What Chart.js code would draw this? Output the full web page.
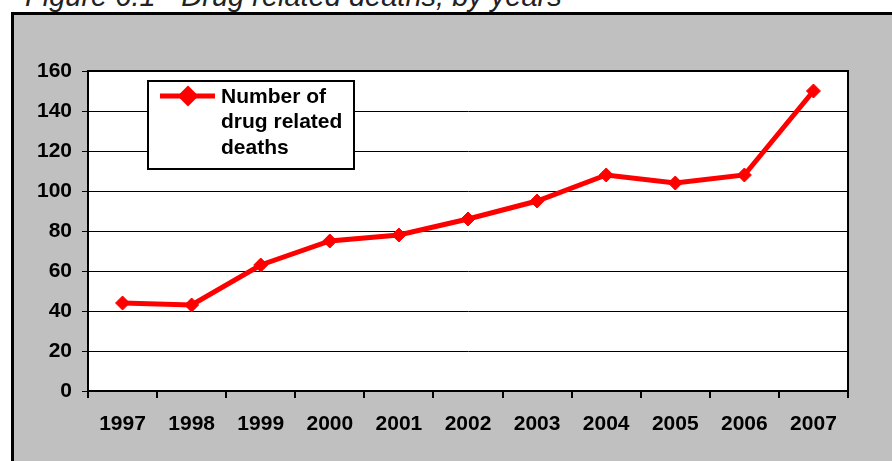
<!DOCTYPE html>
<html>
<head>
<meta charset="utf-8">
<script src="https://cdn.jsdelivr.net/npm/chart.js@4"></script>
<style>
  html, body { margin: 0; padding: 0; background: #fff; overflow: hidden; }
  body { width: 892px; height: 461px; position: relative; }
  #title {
    position: absolute; left: 25px; top: -18px;
    font: italic 29px "Liberation Sans", Arial, sans-serif;
    line-height: 29px; color: #222; white-space: nowrap;
  }
  #frame {
    position: absolute; left: 11px; top: 12px;
    width: 900px; height: 470px;
    border-left: 3px solid #000; border-top: 3px solid #000;
    background: #c0c0c0;
  }
  #myChart { display: block; }
</style>
</head>
<body>
<div id="title">Figure 6.1 - Drug related deaths, by years</div>
<div id="frame"><canvas id="myChart" width="878" height="446"></canvas></div>
<script>
  // data
  const years = ['1997', '1998', '1999', '2000', '2001', '2002', '2003', '2004', '2005', '2006', '2007'];
  const deaths = [44, 43, 63, 75, 78, 86, 95, 108, 104, 108, 150];
  const legendLines = ['Number of', 'drug related', 'deaths'];

  const FONT = '"Liberation Sans", Arial, sans-serif';
  const RED = '#ff0000';

  // white plot area with black frame, drawn under the line
  const plotFrame = {
    id: 'plotFrame',
    beforeDraw(chart) {
      const a = chart.chartArea, ctx = chart.ctx;
      ctx.save();
      ctx.fillStyle = '#fff';
      ctx.fillRect(a.left, a.top, a.right - a.left, a.bottom - a.top);
      ctx.restore();
    },
    beforeDatasetsDraw(chart) {
      const a = chart.chartArea, ctx = chart.ctx;
      ctx.save();
      ctx.strokeStyle = '#000';
      ctx.lineWidth = 2;
      ctx.beginPath();
      ctx.moveTo(a.left, a.top);
      ctx.lineTo(a.right, a.top);
      ctx.lineTo(a.right, a.bottom);
      ctx.stroke();
      ctx.restore();
    }
  };

  // boxed legend with the label wrapped over three lines
  const boxLegend = {
    id: 'boxLegend',
    afterDraw(chart) {
      const a = chart.chartArea, ctx = chart.ctx;
      const ds = chart.data.datasets[0];
      const x = a.left + 60, y = a.top + 10, w = 206, h = 88;
      ctx.save();
      ctx.fillStyle = '#fff';
      ctx.fillRect(x, y, w, h);
      ctx.strokeStyle = '#000';
      ctx.lineWidth = 2;
      ctx.strokeRect(x, y, w, h);

      const ly = y + 15;
      ctx.strokeStyle = ds.borderColor;
      ctx.lineWidth = ds.borderWidth;
      ctx.beginPath();
      ctx.moveTo(x + 12, ly);
      ctx.lineTo(x + 67, ly);
      ctx.stroke();
      ctx.fillStyle = ds.pointBackgroundColor;
      ctx.strokeStyle = ds.pointBorderColor;
      Chart.helpers.drawPoint(ctx, {
        pointStyle: 'rectRot', radius: ds.pointRadius, borderWidth: ds.pointBorderWidth, rotation: 0
      }, x + 40, ly);

      ctx.fillStyle = '#000';
      ctx.font = 'bold 21px ' + FONT;
      ctx.textBaseline = 'middle';
      ctx.textAlign = 'left';
      legendLines.forEach((t, i) => ctx.fillText(t, x + 73, ly + 1 + i * 25.5));
      ctx.restore();
    }
  };

  const config = {
    type: 'line',
    data: {
      labels: years,
      datasets: [{
        label: legendLines.join(' '),
        data: deaths,
        borderColor: RED,
        backgroundColor: RED,
        borderWidth: 5,
        pointStyle: 'rectRot',
        pointRadius: 7,
        pointBorderWidth: 1,
        pointBackgroundColor: RED,
        pointBorderColor: RED,
        tension: 0
      }]
    },
    options: {
      responsive: false,
      animation: false,
      layout: { padding: { left: 0, top: 56, right: 44, bottom: 0 } },
      plugins: {
        legend: { display: false },
        title: { display: false },
        tooltip: { enabled: false }
      },
      scales: {
        x: {
          offset: true,
          grid: { offset: true, drawOnChartArea: false, color: '#000', lineWidth: 2, tickLength: 7 },
          border: { color: '#000', width: 2 },
          ticks: { color: '#000', font: { family: FONT, size: 21, weight: 'bold' }, padding: 14, maxRotation: 0 },
          afterFit(scale) { scale.height = 70; }
        },
        y: {
          min: 0,
          max: 160,
          grid: { color: '#000', lineWidth: 1, tickLength: 6 },
          border: { color: '#000', width: 2 },
          ticks: { stepSize: 20, color: '#000', font: { family: FONT, size: 21, weight: 'bold' }, padding: 10 },
          afterFit(scale) { scale.width = 74; }
        }
      }
    },
    plugins: [plotFrame, boxLegend]
  };

  window.onload = function() {
    const ctx = document.getElementById('myChart').getContext('2d');
    new Chart(ctx, config);
  };
</script>
</body>
</html>
